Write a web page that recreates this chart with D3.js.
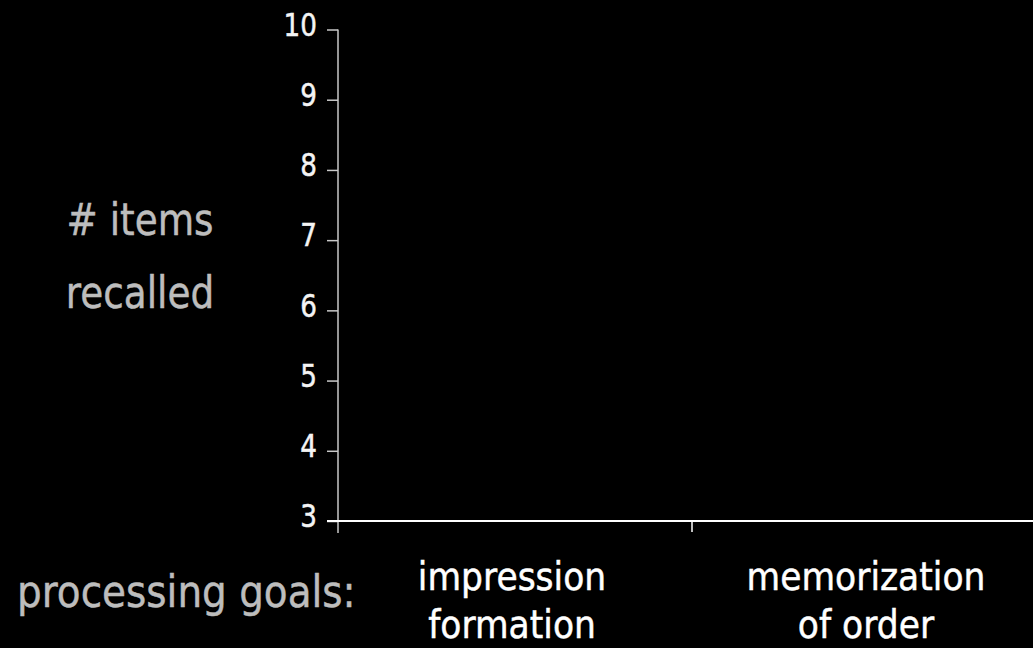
<!DOCTYPE html>
<html><head><meta charset="utf-8">
<script src="https://cdn.jsdelivr.net/npm/d3@7"></script>
<style>html,body{margin:0;background:#000;} svg{display:block}</style>
</head><body><svg width="1033" height="648"></svg>
<script>
// ---- data ----
const categories = ["impression formation", "memorization of order"];
const categoryLines = [["impression", "formation"], ["memorization", "of order"]];
const yTickValues = [3, 4, 5, 6, 7, 8, 9, 10];
const yDomain = [3, 10];
const yTitleLines = ["# items", "recalled"];
const xTitle = "processing goals:";
const seriesValues = []; // the reference shows empty axes (no bars yet)

// ---- drawing ----
const W = 1033, H = 648;
const svg = d3.select("svg");
svg.append("rect").attr("width", W).attr("height", H).attr("fill", "#000");
const FONT = "'DejaVu Sans', sans-serif";

const y = d3.scaleLinear().domain(yDomain).range([521, 29.5]);
const x = d3.scaleBand().domain(categories).range([338, 1046]);

function condense(sel, k) {
  sel.each(function () {
    const L = this.getComputedTextLength();
    d3.select(this).attr("textLength", L * k).attr("lengthAdjust", "spacingAndGlyphs");
  });
}
function heavier(sel, color, w) {
  sel.attr("stroke", color).attr("stroke-width", w).attr("paint-order", "stroke");
}

// Y axis
const yAxis = svg.append("g").attr("transform", "translate(338,0)")
  .call(d3.axisLeft(y).tickValues(yTickValues).tickSize(11).tickSizeOuter(0).tickPadding(10).tickFormat(d3.format("d")));
yAxis.select(".domain").remove();
yAxis.selectAll(".tick line").attr("stroke", "#c8c8c8").attr("stroke-width", 1.5);
yAxis.selectAll(".tick text")
  .attr("fill", "#f4f4f4").attr("font-family", FONT).attr("font-size", 32).attr("dy", "0.18em");
heavier(yAxis.selectAll(".tick text"), "#f4f4f4", 0.5);
condense(yAxis.selectAll(".tick text"), 0.82);
svg.append("line")
  .attr("x1", 338).attr("x2", 338).attr("y1", y(yDomain[1])).attr("y2", y(yDomain[0]) + 12)
  .attr("stroke", "#c8c8c8").attr("stroke-width", 1.5);

// X axis
svg.append("line")
  .attr("x1", 327).attr("x2", W).attr("y1", y(yDomain[0])).attr("y2", y(yDomain[0]))
  .attr("stroke", "#fff").attr("stroke-width", 2);
svg.selectAll("line.xtick").data(categories.slice(1)).join("line").attr("class", "xtick")
  .attr("x1", d => x(d)).attr("x2", d => x(d))
  .attr("y1", y(yDomain[0])).attr("y2", y(yDomain[0]) + 11)
  .attr("stroke", "#fff").attr("stroke-width", 1.5);

// category labels
const catG = svg.selectAll("g.cat").data(categories).join("g").attr("class", "cat")
  .attr("transform", (d) => `translate(${x(d) + x.bandwidth() / 2 - 3},0)`);
catG.each(function (d, i) {
  const g = d3.select(this);
  categoryLines[i].forEach((line, j) => {
    g.append("text").text(line)
      .attr("x", 0).attr("y", 590 + j * 48)
      .attr("text-anchor", "middle").attr("fill", "#fff")
      .attr("font-family", FONT).attr("font-size", 39);
  });
});
heavier(catG.selectAll("text"), "#fff", 0.5);
condense(catG.selectAll("text"), 0.885);

// y title
const yt = svg.selectAll("text.ytitle").data(yTitleLines).join("text").attr("class", "ytitle")
  .text(d => d).attr("x", 140).attr("y", (d, i) => 235 + i * 73)
  .attr("text-anchor", "middle").attr("fill", "#bdbdbd")
  .attr("font-family", FONT).attr("font-size", 45);
heavier(yt, "#bdbdbd", 0.5);
condense(yt, 0.83);

// x title
const xt = svg.append("text").text(xTitle)
  .attr("x", 17).attr("y", 607).attr("fill", "#bdbdbd")
  .attr("font-family", FONT).attr("font-size", 45);
heavier(xt, "#bdbdbd", 0.5);
condense(xt, 0.865);
</script>
</body></html>
